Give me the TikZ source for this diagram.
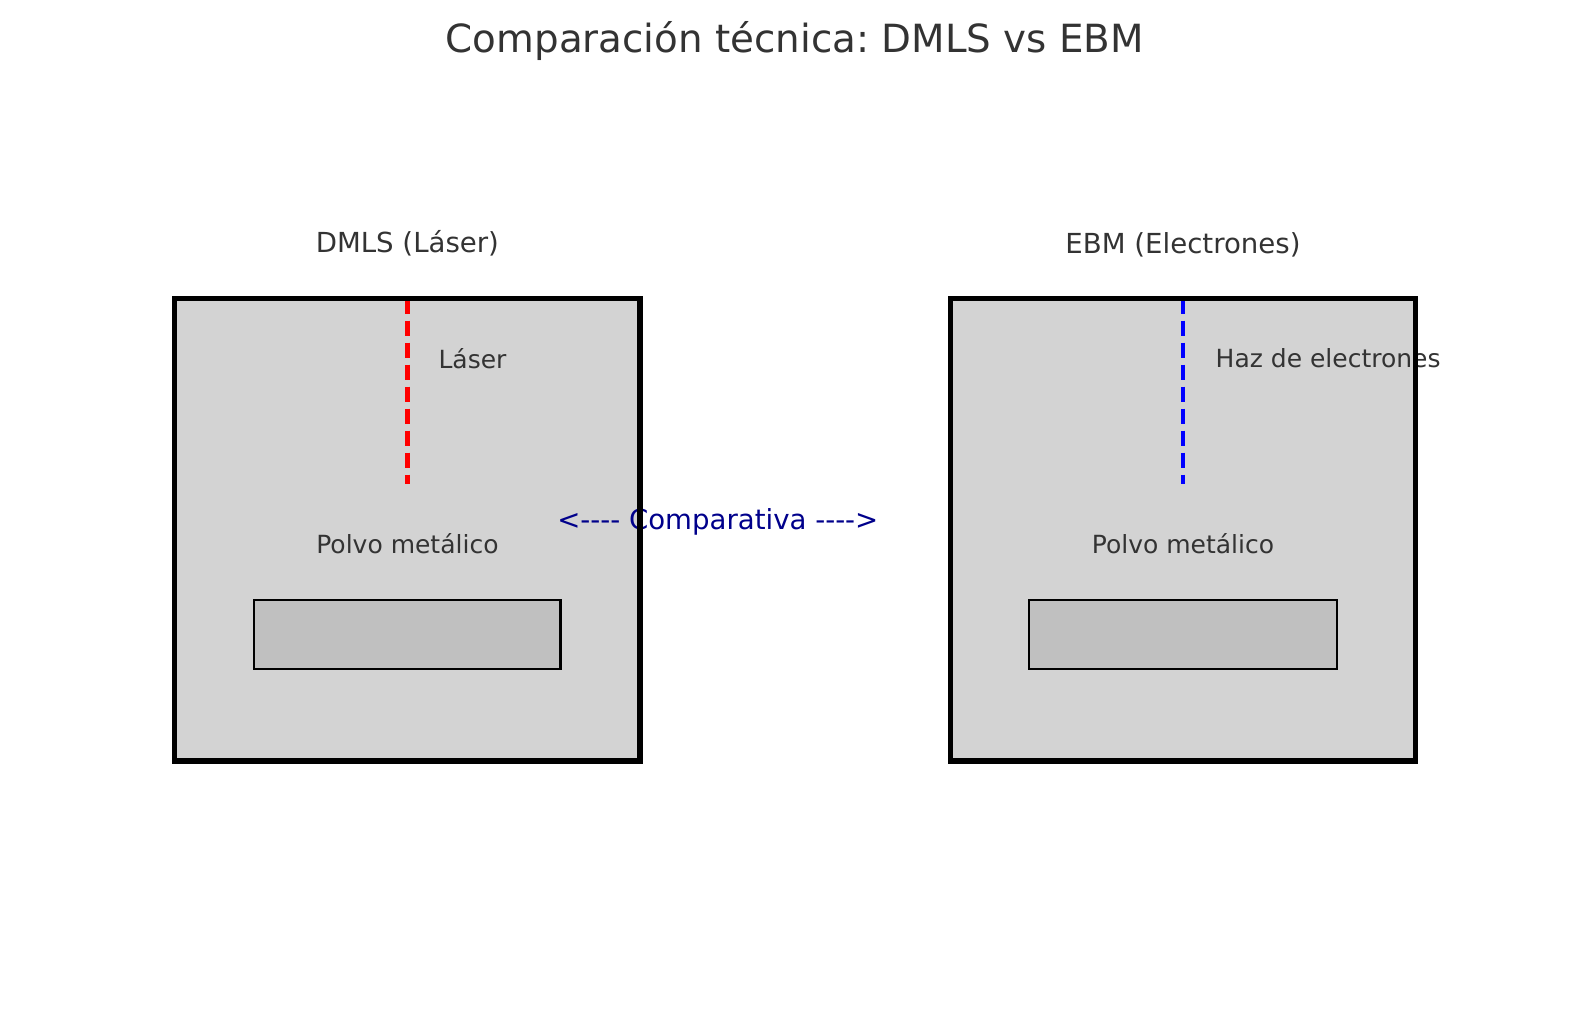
\documentclass[tikz,border=0pt]{standalone}
\usepackage{fontspec}
\setmainfont{DejaVu Sans}
\usepackage{tikz}
\frenchspacing
\definecolor{txtgray}{HTML}{333333}
\definecolor{chambergray}{HTML}{D3D3D3}
\definecolor{bedgray}{HTML}{C0C0C0}
\definecolor{cmpblue}{HTML}{00008B}
\tikzset{
  chamber/.style={line width=5.5pt, draw=black},
  bed/.style={line width=2.7pt, draw=black, fill=bedgray},
  beam/.style={line width=4.4pt, dash pattern=on 15pt off 7pt},
  lbl/.style={text=txtgray, inner sep=0pt}
}

\begin{document}
\begin{tikzpicture}[x=1pt, y=-1pt]
			%%%%% START %%%%%
			\node[lbl, font=\fontsize{38.8}{46}\selectfont] (title) at (794.7, 41.5) {Comparación técnica: DMLS vs EBM};
			
			% chambers
			\fill[chambergray] (174.7, 298.5) rectangle (640, 761);
			\fill[chambergray] (950.5, 298.5) rectangle (1415.5, 761);
			
			% DMLS
			\node[lbl, font=\fontsize{27.6}{33}\selectfont] (dmls) at (407.4, 243.5) {DMLS (Láser)};
			\draw[beam, red] (407.4, 298.5) -- (407.4, 484);
			\node[lbl, anchor=west, font=\fontsize{25}{30}\selectfont] (laser) at (438.3, 358.2) {Láser};
			\node[lbl, font=\fontsize{25}{30}\selectfont] (polvoa) at (407.4, 544) {Polvo metálico};
			\draw[bed] (254, 600) rectangle (560.7, 669);
			
			% EBM
			\node[lbl, font=\fontsize{27.6}{33}\selectfont] (ebm) at (1183, 244.5) {EBM (Electrones)};
			\draw[beam, blue] (1183, 298.5) -- (1183, 484);
			\node[lbl, anchor=west, font=\fontsize{25}{30}\selectfont] (haz) at (1215.5, 358.2) {Haz de electrones};
			\node[lbl, font=\fontsize{25}{30}\selectfont] (polvob) at (1183, 544) {Polvo metálico};
			\draw[bed] (1029, 600) rectangle (1337, 669);
			
			\node[inner sep=0pt, text=cmpblue, font=\fontsize{27.6}{33}\selectfont] (cmp) at (717.8, 522) {<-{}-{}-{}- Comparativa -{}-{}-{}->};
			
			\draw[chamber] (174.7, 298.5) rectangle (640, 761);
			\draw[chamber] (950.5, 298.5) rectangle (1415.5, 761);
			
			\pgfresetboundingbox
			\useasboundingbox (0, 0) rectangle (1589, 1012);
			%%%%% END %%%%%
		\end{tikzpicture}
\end{document}
